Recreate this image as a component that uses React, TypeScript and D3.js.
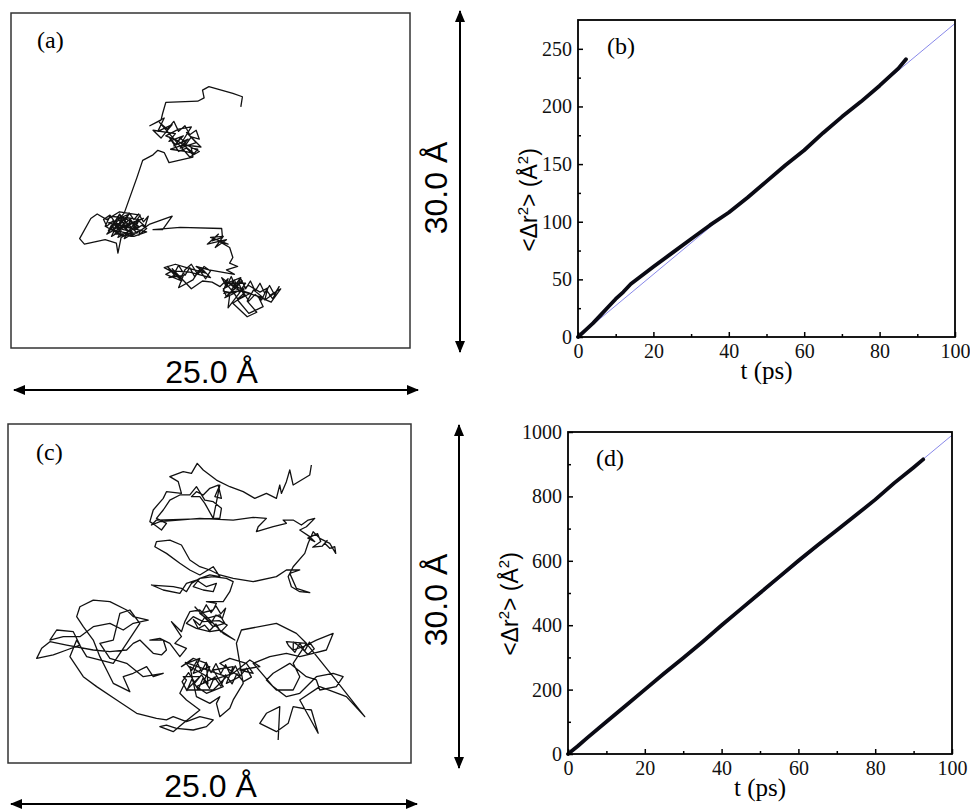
import React, { useEffect, useRef } from 'react';
import * as d3 from 'd3';

type Pt = [number, number];

// single-molecule traces, in Å (x across the 25.0 Å box, y up the 30.0 Å box)
const trajA: Pt[] = [
  [14.4, 21.6], [14.5, 22.5], [13.9, 22.8], [12.4, 23.4], [12.0, 23.1], [12.1, 22.4], [11.7, 22.1], [9.7, 22.0], [9.5, 21.0], [9.4, 20.4],
  [8.7, 19.9], [9.6, 20.6], [9.2, 19.4], [10.1, 20.0], [9.4, 18.8], [8.9, 19.5], [10.3, 19.2], [9.9, 18.5], [10.8, 19.0], [10.2, 18.1],
  [11.1, 18.7], [10.6, 17.9], [11.6, 18.4], [11.0, 19.3], [11.9, 18.0], [10.8, 18.2], [10.0, 17.8], [10.9, 17.6], [11.5, 17.4], [10.4, 18.6],
  [9.7, 19.0], [10.5, 19.6], [11.3, 19.8], [10.7, 18.4], [11.8, 17.6], [11.2, 17.1],
  [9.3, 20.2], [9.8, 19.6], [10.2, 20.3], [10.5, 19.4], [10.9, 19.9], [11.2, 19.1], [11.6, 19.5], [11.8, 18.7], [11.3, 18.9], [11.0, 18.3],
  [10.6, 18.8], [10.3, 18.2], [9.9, 18.9], [10.5, 17.6], [11.0, 17.9], [11.4, 17.3], [11.7, 17.8],
  [11.3, 17.9], [11.4, 17.1], [9.9, 16.6], [9.6, 17.5], [9.2, 17.7], [8.9, 17.3], [8.25, 16.8], [7.9, 15.3], [7.1, 12.1],
  [6.0, 10.2], [6.5, 10.6], [6.3, 10.0], [6.9, 10.5], [6.7, 9.9], [7.3, 10.4], [7.1, 9.8], [7.7, 10.3], [7.5, 10.0], [8.1, 10.5],
  [8.0, 10.1], [8.5, 10.7], [8.2, 11.0], [7.8, 10.6], [7.6, 11.2], [7.2, 10.7], [7.0, 11.3], [6.6, 10.8], [6.4, 11.4], [6.0, 10.9],
  [5.8, 11.5], [6.2, 11.9], [6.5, 11.3], [6.8, 12.0], [7.1, 11.4], [7.4, 12.1], [7.7, 11.5], [8.0, 12.0], [8.3, 11.3], [8.6, 11.8],
  [8.4, 10.9], [8.0, 11.4], [7.8, 10.8], [7.5, 11.5], [7.2, 10.6], [6.9, 11.6], [6.6, 10.4], [6.3, 11.0], [6.1, 10.5],
  [6.6, 11.5], [7.4, 12.0], [6.9, 10.8], [7.8, 11.3], [6.3, 10.6], [7.2, 10.3], [8.0, 10.9], [6.8, 11.9], [7.6, 10.7], [6.1, 11.2],
  [7.0, 11.5], [7.9, 10.3], [6.5, 10.2], [7.3, 11.1], [8.3, 11.6], [6.7, 10.6], [7.5, 11.6], [6.2, 11.8], [5.9, 10.9], [6.9, 10.1],
  [7.7, 10.0], [8.5, 10.4], [7.1, 10.9], [6.4, 11.3], [7.4, 10.5], [8.1, 11.9], [6.8, 12.2], [6.0, 11.5], [5.4, 12.0], [5.0, 11.6],
  [4.3, 9.8], [4.6, 9.3], [5.9, 9.7], [6.6, 9.4], [6.7, 8.5], [6.9, 9.9], [7.6, 10.4], [6.5, 10.8], [7.2, 11.7], [8.0, 11.5],
  [7.3, 10.0], [8.2, 10.6], [8.7, 11.1], [10.1, 11.8], [9.5, 10.6], [8.9, 10.6], [10.6, 10.8], [13.2, 10.7], [13.25, 9.9],
  [12.6, 9.6], [13.0, 10.2], [12.3, 9.3], [13.5, 9.7], [12.8, 9.0], [13.3, 10.0], [12.5, 9.9], [13.6, 9.3], [13.1, 9.5], [13.7, 9.0],
  [13.9, 8.1], [13.7, 7.6], [14.2, 7.3], [13.5, 7.0], [14.0, 6.6], [13.2, 6.8], [12.4, 7.0], [11.6, 7.3], [12.2, 6.7], [11.0, 7.2],
  [10.3, 7.5], [9.6, 7.2], [10.4, 6.6], [9.9, 6.3], [10.8, 6.5], [10.5, 5.4], [11.4, 6.1], [11.9, 7.2], [12.5, 6.3], [11.2, 6.8],
  [10.1, 6.9], [9.7, 6.6], [10.7, 6.0],
  [9.8, 7.3], [10.2, 6.6], [10.5, 7.4], [10.9, 6.5], [11.2, 7.2], [11.5, 6.4], [11.8, 7.0], [12.2, 6.2], [12.5, 6.9], [12.1, 7.3],
  [11.7, 6.6], [11.3, 7.5], [10.9, 7.0], [10.6, 6.2], [10.1, 7.1],
  [11.3, 5.3], [12.0, 6.0], [12.6, 5.9],
  [13.1, 5.5], [13.6, 6.2], [13.3, 5.1], [14.0, 4.9], [13.4, 4.5], [14.3, 5.7], [14.6, 4.7], [13.9, 4.0], [14.8, 2.8], [15.4, 3.2],
  [14.8, 4.2], [15.2, 5.2], [15.8, 4.5], [14.4, 5.1], [13.6, 3.6], [13.7, 4.7], [14.9, 5.6], [15.6, 5.0], [16.1, 5.4], [15.9, 4.3],
  [16.6, 5.0], [16.2, 4.7], [16.9, 5.3], [16.3, 4.1], [15.5, 4.6], [15.8, 3.7], [14.9, 3.1], [14.2, 4.3], [15.0, 4.9], [14.1, 5.3],
  [13.2, 6.3], [13.5, 5.5], [13.8, 6.4], [14.1, 5.4], [14.4, 6.2], [14.7, 5.3], [15.0, 6.0], [15.3, 5.1], [15.6, 5.8], [15.9, 4.9],
  [16.2, 5.6], [16.5, 4.8], [16.8, 5.5], [16.4, 4.4], [16.0, 5.2], [15.7, 4.3], [15.3, 4.8], [14.9, 4.2], [14.6, 4.9], [14.2, 4.4],
  [13.9, 5.1], [13.5, 4.6], [13.3, 5.3], [13.7, 5.6], [14.0, 6.1], [14.3, 5.0], [14.7, 5.8],
  [13.5, 5.8], [14.4, 6.3], [13.8, 5.2], [13.4, 5.9], [14.2, 5.5], [13.6, 4.8], [14.5, 6.0], [13.9, 5.6], [14.6, 5.2], [13.3, 4.9],
];

const trajC: Pt[] = [
  [18.82, 26.37], [18.72, 25.49], [17.69, 24.60], [17.48, 25.93], [17.27, 24.90], [16.96, 23.86], [16.86, 24.60], [16.65, 23.42], [16.03, 23.86], [15.31, 23.42],
  [14.59, 24.01], [13.76, 24.45], [12.93, 25.04], [12.11, 25.93], [11.74, 26.52], [11.38, 25.63], [10.87, 25.78], [10.04, 25.34], [10.56, 24.90], [10.76, 23.86],
  [9.83, 24.01], [9.63, 23.42], [9.01, 22.39], [8.80, 21.36], [9.11, 21.06], [9.52, 20.62], [9.83, 21.21], [9.21, 21.65], [9.63, 22.39], [10.04, 23.27],
  [10.66, 23.72], [11.28, 23.72], [11.69, 24.45], [12.21, 23.27], [12.73, 23.13], [13.24, 22.54], [13.14, 21.65], [12.73, 21.65], [12.21, 22.98], [11.90, 23.57],
  [11.38, 23.57], [11.69, 24.01], [12.11, 23.72], [12.52, 24.31], [13.04, 24.60], [13.24, 23.42], [12.83, 23.57], [13.14, 24.60], [12.73, 21.65],
  [9.21, 21.50], [8.90, 21.06], [9.42, 21.36], [11.90, 21.65], [13.97, 21.50], [15.21, 21.74], [16.03, 21.65], [15.52, 20.91], [15.41, 20.47], [16.45, 20.91],
  [17.27, 21.21], [17.07, 21.50], [17.69, 21.50], [18.20, 21.06], [18.62, 21.50], [19.03, 21.65], [18.51, 20.91], [18.10, 20.62], [18.72, 20.03], [19.03, 19.59],
  [18.60, 19.90], [19.20, 20.30], [19.40, 19.60], [18.90, 19.10], [19.50, 19.20], [19.80, 19.70],
  [19.65, 19.44], [19.96, 19.00], [20.27, 19.14], [20.33, 18.55], [19.96, 19.44], [19.34, 19.88], [18.93, 20.47], [18.62, 19.44], [18.41, 18.55],
  [17.69, 17.37], [17.38, 16.49], [17.58, 15.60], [18.10, 15.16], [18.72, 15.07], [17.89, 15.46], [17.48, 16.78], [18.10, 17.08], [17.27, 17.08], [16.65, 16.49],
  [15.21, 16.05], [13.97, 16.34], [13.14, 16.64], [12.52, 17.08], [11.90, 17.37], [11.28, 17.96], [10.76, 19.29], [10.04, 19.73], [9.21, 19.59], [9.11, 19.14],
  [9.83, 18.55], [10.66, 17.67], [11.28, 17.08], [11.90, 16.64], [12.73, 17.37], [13.14, 16.49],
  [12.52, 16.64], [11.90, 16.34], [11.38, 15.90], [11.07, 15.16], [10.76, 15.46], [10.25, 15.60], [8.90, 15.75], [9.63, 15.31], [10.66, 15.01], [11.07, 15.90],
  [11.69, 16.19], [12.31, 15.60], [12.93, 15.90], [12.73, 15.16], [12.11, 15.31], [11.49, 15.60], [11.90, 16.34], [12.73, 16.49], [13.55, 16.34], [13.97, 16.05],
  [13.76, 15.16], [13.35, 14.28], [12.31, 14.28], [12.93, 14.13], [12.73, 13.54], [11.90, 13.24], [12.31, 12.80], [13.14, 13.10], [13.45, 12.36], [12.73, 12.06],
  [11.60, 13.80], [12.00, 13.20], [12.30, 14.00], [12.60, 13.30], [12.90, 13.90], [13.20, 13.20], [13.50, 13.70], [13.30, 12.80], [12.90, 13.10], [12.60, 12.40],
  [12.20, 12.90], [11.90, 12.20], [11.50, 12.70], [11.80, 11.90], [12.20, 12.20], [12.50, 11.70], [12.90, 12.30], [13.20, 11.60], [13.60, 12.20], [13.10, 12.60],
  [12.11, 12.51], [11.49, 12.95], [11.07, 12.36], [11.69, 11.92], [12.52, 11.62], [13.14, 11.77], [13.76, 11.18], [14.07, 10.88], [13.35, 11.47], [12.73, 12.36],
  [11.90, 13.54], [11.28, 13.39], [10.97, 12.51], [10.76, 11.62],
  [10.66, 11.77], [10.14, 12.51], [10.76, 11.18], [10.35, 10.59], [11.07, 10.15], [10.66, 9.41], [10.04, 10.59], [9.42, 11.03], [8.80, 10.88], [9.63, 10.88],
  [9.83, 10.00], [9.52, 9.56], [9.01, 9.71], [8.18, 10.88], [7.77, 10.59], [7.36, 10.00], [6.32, 9.85], [5.29, 10.00], [3.64, 10.44], [2.60, 10.74],
  [2.09, 10.15], [1.78, 9.26], [2.81, 9.56], [3.64, 10.00], [4.46, 10.44], [4.05, 11.62], [3.02, 11.77], [2.60, 10.88], [3.43, 11.18], [4.46, 11.18],
  [5.29, 12.06], [6.32, 12.36], [7.15, 11.77], [7.77, 12.36], [8.70, 12.65], [7.77, 12.95], [7.36, 13.54], [6.32, 14.28], [5.29, 14.42], [4.46, 13.83],
  [4.26, 12.95], [4.67, 12.06], [5.29, 10.88], [5.70, 9.41], [6.12, 8.23], [6.53, 7.05], [7.56, 6.31], [7.15, 7.64], [7.77, 7.94], [8.60, 8.53],
  [9.01, 7.64], [9.63, 7.94], [8.39, 7.64], [7.36, 8.82], [6.32, 9.26], [5.70, 10.59], [6.53, 10.88], [6.94, 13.24], [7.56, 13.54], [8.18, 12.36],
  [7.36, 10.59], [6.53, 8.82], [4.88, 9.41], [4.26, 10.88], [3.84, 9.41], [4.67, 7.64], [5.50, 6.76], [6.74, 5.58], [7.98, 4.40], [9.21, 3.95], [9.83, 3.81],
  [10.25, 4.10], [11.07, 3.66], [11.90, 4.10], [12.73, 3.81], [12.31, 3.22], [11.49, 2.92], [10.45, 3.07], [9.83, 3.36], [9.42, 3.22], [10.25, 2.77],
  [10.87, 3.51], [11.90, 4.69], [11.07, 5.58], [10.66, 6.17], [11.07, 7.35], [10.87, 7.64], [11.90, 7.64], [11.07, 6.46], [12.73, 6.46], [13.55, 7.64],
  [11.00, 8.90], [11.40, 8.20], [11.70, 9.00], [12.00, 8.10], [12.30, 8.90], [12.60, 8.00], [12.90, 8.80], [13.20, 7.90], [13.50, 8.70], [13.80, 7.80],
  [14.10, 8.60], [14.40, 7.70], [14.80, 8.40], [15.10, 7.60], [14.60, 7.20], [14.20, 7.90], [13.90, 7.00], [13.50, 7.80], [13.20, 6.80], [12.80, 7.60],
  [12.50, 6.60], [12.10, 7.50], [11.80, 6.50], [11.40, 7.40], [11.10, 6.40], [10.80, 7.20], [11.20, 8.00], [11.60, 7.10], [12.00, 7.80], [12.40, 7.00],
  [12.31, 8.82], [11.49, 9.26], [10.76, 8.53], [11.07, 8.82], [11.90, 9.26], [11.49, 7.94], [12.52, 8.53], [12.11, 7.05], [12.93, 7.64], [11.69, 6.76],
  [12.31, 6.17], [13.35, 6.76], [12.73, 8.23], [13.97, 8.53], [13.55, 7.05], [14.38, 7.64], [13.14, 8.82], [13.76, 9.26], [14.79, 8.82], [15.21, 7.94],
  [14.38, 8.23], [15.62, 8.53], [15.00, 9.12], [13.97, 7.94], [12.73, 7.35], [11.28, 8.53], [11.69, 5.87], [12.52, 5.28], [13.14, 5.87], [12.93, 5.28],
  [13.14, 4.10], [13.76, 4.84], [13.97, 5.58], [14.59, 7.05], [14.17, 10.59], [14.48, 11.77], [16.65, 12.36], [17.89, 11.47], [18.51, 10.59], [17.27, 10.74],
  [17.40, 10.40], [17.80, 9.80], [18.10, 10.60], [18.40, 9.90], [18.70, 10.70], [19.00, 10.10], [18.60, 9.60], [18.20, 10.20], [17.70, 10.70],
  [17.69, 10.00], [18.31, 10.29], [19.13, 10.88], [20.17, 11.47], [19.75, 10.00], [18.93, 9.71], [18.10, 9.41], [17.27, 9.71], [16.24, 9.41], [15.21, 8.82],
  [16.45, 6.76], [17.27, 5.87], [18.10, 6.17], [19.13, 7.64], [20.17, 7.94], [20.79, 7.64], [20.37, 6.76], [19.34, 6.46], [19.13, 7.35], [18.51, 7.64],
  [17.48, 8.82], [16.45, 7.94], [16.03, 7.35], [16.65, 6.46], [17.69, 6.46], [18.10, 7.64], [17.69, 8.82], [18.51, 10.59], [20.17, 7.64], [22.13, 4.10],
  [20.99, 5.87], [19.34, 6.76], [18.10, 5.58], [19.24, 2.63], [18.82, 4.69], [17.69, 4.99], [17.38, 3.51], [16.65, 2.77], [15.62, 3.51], [16.03, 4.40],
  [16.86, 4.99], [16.76, 2.04],
];

// mean square displacement, <Δr²> (Å²) vs t (ps)
const timeTicks = [0, 20, 40, 60, 80, 100];
const timeMinor = [10, 30, 50, 70, 90];
const msdTicksB = [0, 50, 100, 150, 200, 250];
const msdMinorB = [25, 75, 125, 175, 225];
const msdTicksD = [0, 200, 400, 600, 800, 1000];
const msdMinorD = [100, 300, 500, 700, 900];

const msdTimeB = [0, 2, 4, 6, 8, 10, 12, 14, 16, 18, 20, 25, 30, 35, 40, 45, 50, 55, 60, 65, 70, 75, 80, 85, 87];
const msdB = [0, 6, 12, 19, 26, 33, 39, 46, 51, 56, 61, 73, 85, 97, 108, 121, 135, 149, 162, 177, 191, 204, 218, 233, 241];
const msdTimeD = [0, 2.5, 5, 10, 15, 20, 25, 30, 35, 40, 45, 50, 55, 60, 65, 70, 75, 80, 85, 90, 92.5];
const msdD = [0, 24, 50, 100, 150, 200, 250, 298, 348, 400, 450, 500, 550, 600, 648, 695, 742, 790, 842, 890, 915];

// linear fits
const fitTime = [0, 100];
const fitB = [0, 272];
const fitD = [0, 990];

const SERIF = "'Liberation Serif', 'DejaVu Serif', serif";
const SANS = "'Liberation Sans', Arial, sans-serif";

const drawTrajectory = (svg, o) => {
  const x = d3.scaleLinear().domain([0, 25]).range([o.left, o.right]);
  const y = d3.scaleLinear().domain([0, 30]).range([o.bottom, o.top]);

  svg.append('rect')
    .attr('x', o.left).attr('y', o.top)
    .attr('width', o.right - o.left).attr('height', o.bottom - o.top)
    .attr('fill', 'none').attr('stroke', '#333').attr('stroke-width', 1.5);

  svg.append('path')
    .datum(o.trace)
    .attr('d', d3.line<Pt>().x(d => x(d[0])).y(d => y(d[1])))
    .attr('fill', 'none').attr('stroke', '#111').attr('stroke-width', 1.3)
    .attr('stroke-linejoin', 'round');

  svg.append('text')
    .attr('x', o.labelX).attr('y', o.labelY)
    .attr('font-family', SERIF).attr('font-size', 24)
    .text(o.label);

  // scale arrows
  svg.append('line')
    .attr('x1', o.hArrow[0]).attr('x2', o.hArrow[1])
    .attr('y1', o.hArrowY).attr('y2', o.hArrowY)
    .attr('stroke', '#000').attr('stroke-width', 2)
    .attr('marker-start', 'url(#arrow)').attr('marker-end', 'url(#arrow)');
  svg.append('line')
    .attr('x1', o.vArrowX).attr('x2', o.vArrowX)
    .attr('y1', o.vArrow[0]).attr('y2', o.vArrow[1])
    .attr('stroke', '#000').attr('stroke-width', 2)
    .attr('marker-start', 'url(#arrow)').attr('marker-end', 'url(#arrow)');

  svg.append('text')
    .attr('x', (o.left + o.right) / 2 + 1).attr('y', o.hLabelY)
    .attr('text-anchor', 'middle')
    .attr('font-family', SANS).attr('font-size', 32)
    .text('25.0 Å');
  svg.append('text')
    .attr('transform', `translate(${o.vLabelX},${o.vLabelY}) rotate(-90)`)
    .attr('text-anchor', 'middle')
    .attr('font-family', SANS).attr('font-size', 32)
    .text('30.0 Å');
};

const drawMsd = (svg, o) => {
  const x = d3.scaleLinear().domain([0, 100]).range([o.left, o.right]);
  const y = d3.scaleLinear().domain([0, o.yMax]).range([o.bottom, o.top]);

  const styleAxis = g => {
    g.select('.domain').remove();
    g.selectAll('line').attr('stroke-width', 1.5);
    g.attr('font-family', SERIF).attr('font-size', 20);
    g.selectAll('text').attr('fill', '#111');
  };

  svg.append('g')
    .attr('transform', `translate(0,${o.bottom})`)
    .call(d3.axisBottom(x).tickValues(timeTicks).tickSize(-5).tickPadding(7).tickFormat(d3.format('d')))
    .call(styleAxis);
  svg.append('g')
    .attr('transform', `translate(0,${o.bottom})`)
    .call(d3.axisBottom(x).tickValues(timeMinor).tickSize(-3).tickFormat(() => ''))
    .call(styleAxis);
  svg.append('g')
    .attr('transform', `translate(${o.left},0)`)
    .call(d3.axisLeft(y).tickValues(o.yTicks).tickSize(-5).tickPadding(6).tickFormat(d3.format('d')))
    .call(styleAxis);
  svg.append('g')
    .attr('transform', `translate(${o.left},0)`)
    .call(d3.axisLeft(y).tickValues(o.yMinor).tickSize(-3).tickFormat(() => ''))
    .call(styleAxis);

  const line = d3.line<number>().x(d => x(d[0])).y(d => y(d[1]));

  svg.append('path')
    .datum(fitTime.map((t, i) => [t, o.fit[i]]))
    .attr('d', line)
    .attr('fill', 'none').attr('stroke', '#7b7be6').attr('stroke-width', 0.9);

  svg.append('path')
    .datum(o.t.map((t, i) => [t, o.v[i]]))
    .attr('d', line)
    .attr('fill', 'none').attr('stroke', '#0a0a14').attr('stroke-width', 3.8)
    .attr('stroke-linecap', 'round').attr('stroke-linejoin', 'round');

  svg.append('rect')
    .attr('x', o.left).attr('y', o.top)
    .attr('width', o.right - o.left).attr('height', o.bottom - o.top)
    .attr('fill', 'none').attr('stroke', '#000').attr('stroke-width', 1.8);

  svg.append('text')
    .attr('x', o.labelX).attr('y', o.top + o.labelDy)
    .attr('font-family', SERIF).attr('font-size', 24)
    .text(o.label);

  svg.append('text')
    .attr('x', (o.left + o.right) / 2).attr('y', o.bottom + 42)
    .attr('text-anchor', 'middle')
    .attr('font-family', SERIF).attr('font-size', 25)
    .text('t (ps)');

  const yl = svg.append('text')
    .attr('transform', `translate(${o.yLabelX},${o.yLabelY}) rotate(-90)`)
    .attr('text-anchor', 'middle')
    .attr('font-family', SANS).attr('font-size', 23);
  yl.append('tspan').text('<Δr');
  yl.append('tspan').attr('dy', -9).attr('font-size', 15).text('2');
  yl.append('tspan').attr('dy', 9).text('> (Å');
  yl.append('tspan').attr('dy', -9).attr('font-size', 15).text('2');
  yl.append('tspan').attr('dy', 9).text(')');
};

export default function App() {
  const ref = useRef<SVGSVGElement>(null);

  useEffect(() => {
    document.body.style.margin = '0';
    const svg = d3.select(ref.current);
    svg.selectAll('*').remove();

    svg.append('defs').append('marker')
      .attr('id', 'arrow')
      .attr('viewBox', '0 0 12 10')
      .attr('refX', 11).attr('refY', 5)
      .attr('markerWidth', 12).attr('markerHeight', 10)
      .attr('markerUnits', 'userSpaceOnUse')
      .attr('orient', 'auto-start-reverse')
      .append('path').attr('d', 'M0,0 L12,5 L0,10 Z').attr('fill', '#000');

    drawTrajectory(svg, {
      left: 11, right: 410, top: 13, bottom: 348, trace: trajA, label: '(a)', labelX: 37, labelY: 48,
      hArrow: [14, 418], hArrowY: 390, hLabelY: 383,
      vArrow: [11, 352], vArrowX: 460, vLabelX: 447, vLabelY: 188,
    });
    drawTrajectory(svg, {
      left: 8, right: 411, top: 424, bottom: 763, trace: trajC, label: '(c)', labelX: 36, labelY: 460,
      hArrow: [11, 417], hArrowY: 804, hLabelY: 797,
      vArrow: [425, 768], vArrowX: 459, vLabelX: 447, vLabelY: 600,
    });

    drawMsd(svg, {
      left: 578, right: 955, top: 20, bottom: 337, yMax: 275,
      yTicks: msdTicksB, yMinor: msdMinorB, t: msdTimeB, v: msdB, fit: fitB,
      label: '(b)', labelX: 607, labelDy: 34, yLabelX: 537, yLabelY: 200,
    });
    drawMsd(svg, {
      left: 568, right: 952, top: 432, bottom: 754, yMax: 1000,
      yTicks: msdTicksD, yMinor: msdMinorD, t: msdTimeD, v: msdD, fit: fitD,
      label: '(d)', labelX: 596, labelDy: 34, yLabelX: 518, yLabelY: 604,
    });
  }, []);

  return <svg ref={ref} width={970} height={809} style={{ display: 'block', background: '#fff' }} />;
}
